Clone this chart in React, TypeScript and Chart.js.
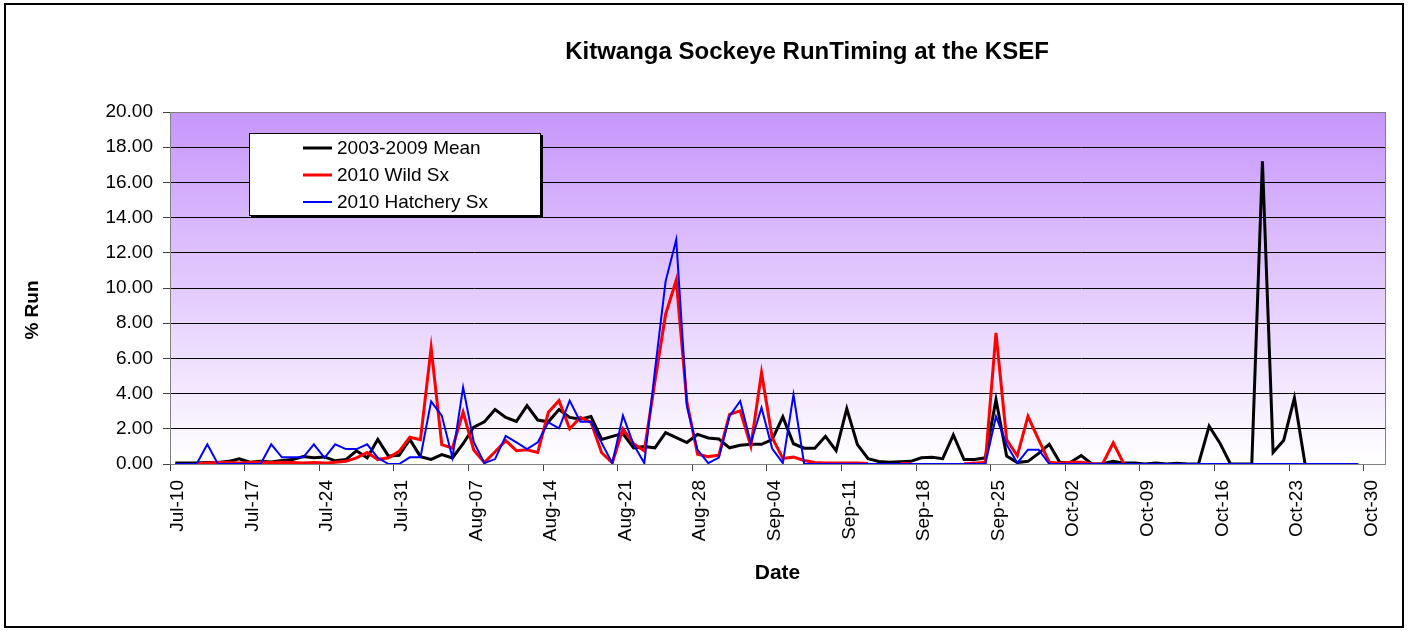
import React, { useEffect, useRef } from "react";
import { Chart, registerables } from "chart.js";

Chart.register(...registerables);

const TITLE = "Kitwanga Sockeye RunTiming at the KSEF";
const X_TITLE = "Date";
const Y_TITLE = "% Run";

// Week tick labels (every 7 days from Jul-10)
const TICK_LABELS = [
  "Jul-10", "Jul-17", "Jul-24", "Jul-31", "Aug-07", "Aug-14", "Aug-21", "Aug-28",
  "Sep-04", "Sep-11", "Sep-18", "Sep-25", "Oct-02", "Oct-09", "Oct-16", "Oct-23", "Oct-30",
];
const AXIS_DAYS = 114; // Jul-10 .. Nov-01
const Y_MAX = 20;
const Y_STEP = 2;

const SERIES_NAMES = ["2003-2009 Mean", "2010 Wild Sx", "2010 Hatchery Sx"];
const SERIES_COLORS = ["#000000", "#FF0000", "#0000FF"];

// Daily values, index 0 = Jul-10
const MEAN = [
  0.05, 0.05, 0.05, 0.08, 0.08, 0.15, 0.3, 0.1, 0.15, 0.12,
  0.2, 0.25, 0.42, 0.35, 0.4, 0.18, 0.25, 0.75, 0.35, 1.4,
  0.45, 0.5, 1.4, 0.42, 0.26, 0.53, 0.34, 1.15, 2.1, 2.4,
  3.1, 2.65, 2.42, 3.32, 2.5, 2.4, 3.1, 2.65, 2.55, 2.7,
  1.4, 1.57, 1.73, 0.92, 1.0, 0.92, 1.78, 1.5, 1.22, 1.68,
  1.48, 1.42, 0.92, 1.06, 1.12, 1.12, 1.38, 2.68, 1.15, 0.9,
  0.9, 1.57, 0.76, 3.15, 1.1, 0.3, 0.14, 0.1, 0.13, 0.15,
  0.35, 0.38, 0.3, 1.65, 0.25, 0.25, 0.35, 3.65, 0.45, 0.08,
  0.15, 0.6, 1.12, 0.08, 0.1, 0.48, 0, 0.02, 0.15, 0.05,
  0.05, 0, 0.06, 0, 0.04, 0, 0, 2.15, 1.2, 0,
  0, 0, 17.2, 0.66, 1.35, 3.75, 0, null, null, null,
  null, null,
];

const WILD = [
  null, null, 0.02, 0.05, 0.08, 0.08, 0.05, 0.08, 0.1, 0.08,
  0.1, 0.08, 0.05, 0.08, 0.05, 0.1, 0.15, 0.35, 0.65, 0.25,
  0.35, 0.72, 1.52, 1.38, 6.6, 1.1, 0.9, 2.95, 0.8, 0.08,
  0.7, 1.33, 0.76, 0.81, 0.66, 2.94, 3.6, 2.0, 2.65, 2.37,
  0.64, 0.07, 1.98, 1.15, 0.74, 4.7, 8.5, 10.45, 3.5, 0.55,
  0.42, 0.5, 2.82, 3.02, 1.02, 5.18, 1.5, 0.32, 0.39, 0.2,
  0.08, 0.05, 0.05, 0.05, 0.05, 0.03, null, null, 0.03, 0.03,
  null, null, null, null, 0.02, 0.05, 0.1, 7.45, 1.38, 0.47,
  2.7, 1.38, 0.1, 0.05, 0.1, 0.1, 0.02, 0, 1.2, 0,
  null, null, null, null, null, null, null, null, null, null,
  null, null, null, null, null, null, null, null, null, null,
  null, null,
];

const HATCHERY = [
  0, 0, 0, 1.12, 0, 0, 0, 0, 0, 1.12,
  0.38, 0.38, 0.38, 1.12, 0.35, 1.12, 0.85, 0.85, 1.12, 0.35,
  0, 0, 0.38, 0.38, 3.56, 2.75, 0.36, 4.36, 1.25, 0.05,
  0.28, 1.6, 1.23, 0.85, 1.23, 2.37, 2.03, 3.6, 2.4, 2.4,
  1.2, 0.05, 2.75, 1.1, 0.05, 5.3, 10.38, 12.75, 3.28, 0.8,
  0.05, 0.36, 2.72, 3.58, 1.2, 3.2, 0.88, 0.05, 3.94, 0,
  0, 0, 0, 0, 0, 0, 0, 0, 0, 0,
  0, 0, 0, 0, 0, 0, 0, 2.7, 1.1, 0.05,
  0.81, 0.81, 0, 0, 0, 0, 0, 0, 0, 0,
  0, 0, 0, 0, 0, 0, 0, 0, 0, 0,
  0, 0, 0, 0, 0, 0, 0, 0, 0, 0,
  0, 0,
];

const FONT = "'Liberation Sans', Arial, Helvetica, sans-serif";

const decorPlugin = {
  id: "decor",
  beforeDraw(chart: any) {
    const { ctx, chartArea: a, width, height } = chart;
    ctx.save();
    ctx.fillStyle = "#ffffff";
    ctx.fillRect(0, 0, width, height);
    ctx.strokeStyle = "#000000";
    ctx.lineWidth = 2;
    ctx.strokeRect(5, 4, width - 10, height - 7);
    const g = ctx.createLinearGradient(0, a.top, 0, a.bottom);
    g.addColorStop(0, "#C796FB");
    g.addColorStop(1, "#FFFFFF");
    ctx.fillStyle = g;
    ctx.fillRect(a.left, a.top, a.right - a.left, a.bottom - a.top);
    ctx.restore();
  },
  afterDraw(chart: any) {
    const { ctx, chartArea: a } = chart;
    ctx.save();
    // plot border
    ctx.strokeStyle = "#808080";
    ctx.lineWidth = 1;
    ctx.strokeRect(a.left + 0.5, a.top + 0.5, a.right - a.left, a.bottom - a.top);

    // title
    ctx.fillStyle = "#000";
    ctx.textAlign = "center";
    ctx.textBaseline = "middle";
    ctx.font = `bold 24px ${FONT}`;
    ctx.fillText(TITLE, 807, 52);

    // axis titles
    ctx.font = `bold 21px ${FONT}`;
    ctx.fillText(X_TITLE, (a.left + a.right) / 2, 573);
    ctx.font = `bold 19px ${FONT}`;
    ctx.save();
    ctx.translate(33, 310);
    ctx.rotate(-Math.PI / 2);
    ctx.fillText(Y_TITLE, 0, 0);
    ctx.restore();

    // legend box
    const bx = 249, by = 133, bw = 292, bh = 83;
    ctx.fillStyle = "#000";
    ctx.fillRect(bx + 2, by + 2, bw, bh);
    ctx.fillStyle = "#fff";
    ctx.fillRect(bx, by, bw, bh);
    ctx.strokeStyle = "#000";
    ctx.lineWidth = 1;
    ctx.strokeRect(bx + 0.5, by + 0.5, bw - 1, bh - 1);
    ctx.font = `19px ${FONT}`;
    ctx.textAlign = "left";
    const rows = [148, 175, 202];
    chart.data.datasets.forEach((ds: any, i: number) => {
      const y = rows[i];
      ctx.strokeStyle = ds.borderColor;
      ctx.lineWidth = ds.borderWidth;
      ctx.beginPath();
      ctx.moveTo(303, y);
      ctx.lineTo(332, y);
      ctx.stroke();
      ctx.fillStyle = "#000";
      ctx.fillText(ds.label, 337, y + 1);
    });
    ctx.restore();
  },
};

export default function App() {
  const ref = useRef<HTMLCanvasElement>(null);

  useEffect(() => {
    const canvas = ref.current;
    if (!canvas) return;
    const pts = (arr: (number | null)[]) => arr.map((v, i) => ({ x: i + 0.5, y: v }));
    const series = [MEAN, WILD, HATCHERY];
    const widths = [3, 3, 2];
    const orders = [3, 2, 1];

    const chart = new Chart(canvas, {
      type: "line",
      data: {
        datasets: series.map((s, i) => ({
          label: SERIES_NAMES[i],
          data: pts(s),
          borderColor: SERIES_COLORS[i],
          backgroundColor: SERIES_COLORS[i],
          borderWidth: widths[i],
          pointRadius: 0,
          tension: 0,
          fill: false,
          spanGaps: false,
          order: orders[i],
        })) as any,
      },
      options: {
        responsive: false,
        animation: false,
        devicePixelRatio: 1,
        layout: { padding: { top: 112, right: 23, left: 0, bottom: 0 } },
        plugins: {
          legend: { display: false },
          title: { display: false },
          tooltip: { enabled: false },
        },
        scales: {
          x: {
            type: "linear",
            min: 0,
            max: AXIS_DAYS,
            afterFit: (s: any) => { s.height = 166; },
            grid: {
              display: true,
              drawOnChartArea: false,
              drawTicks: true,
              tickLength: 7,
              tickColor: "#404040",
            },
            border: { display: true, color: "#808080", width: 1 },
            ticks: {
              stepSize: 7,
              includeBounds: false,
              autoSkip: false,
              minRotation: 90,
              maxRotation: 90,
              padding: 9,
              labelOffset: 8,
              color: "#000",
              font: { family: FONT, size: 19 },
              callback: (v: any) => {
                const idx = Number(v) / 7;
                return Number.isInteger(idx) ? TICK_LABELS[idx] ?? "" : "";
              },
            },
          },
          y: {
            type: "linear",
            min: 0,
            max: Y_MAX,
            afterFit: (s: any) => { s.width = 170; },
            grid: {
              color: "#000000",
              lineWidth: 1,
              drawTicks: true,
              tickLength: 7,
              tickColor: "#404040",
            },
            border: { display: true, color: "#808080", width: 1 },
            ticks: {
              stepSize: Y_STEP,
              padding: 10,
              color: "#000",
              font: { family: FONT, size: 19 },
              callback: (v: any) => Number(v).toFixed(2),
            },
          },
        },
      } as any,
      plugins: [decorPlugin],
    });
    return () => chart.destroy();
  }, []);

  return (
    <div style={{ position: "fixed", left: 0, top: 0, width: 1408, height: 630, background: "#fff" }}>
      <canvas ref={ref} width={1408} height={630} style={{ display: "block", width: 1408, height: 630 }} />
    </div>
  );
}
